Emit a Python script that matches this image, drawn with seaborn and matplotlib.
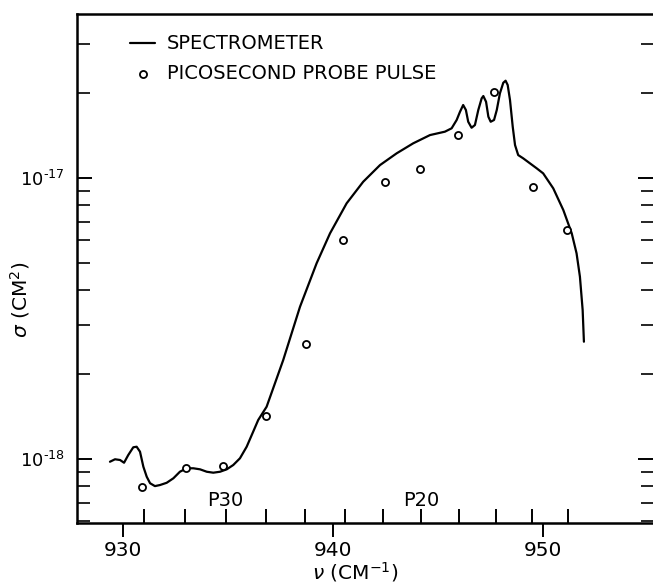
import matplotlib
matplotlib.use("Agg")
import matplotlib.pyplot as plt
from matplotlib.ticker import FixedLocator, FixedFormatter, LogLocator, NullFormatter
import pandas as pd
import seaborn as sns

# spectrometer trace, sigma in units of 1e-18 cm^2
spec_nu = [929.38, 929.62, 929.86, 930.05, 930.25, 930.49, 930.65, 930.81, 930.97,
           931.13, 931.29, 931.52, 931.76, 932.08, 932.40, 932.71, 933.03, 933.35,
           933.67, 933.99, 934.30, 934.62, 934.94, 935.25, 935.57, 935.89, 936.20,
           936.44, 936.84, 937.63, 938.43, 939.22, 939.86, 940.65, 941.44, 942.24,
           943.03, 943.82, 944.62, 945.33, 945.65, 945.89, 946.05, 946.20, 946.33,
           946.44, 946.60, 946.76, 946.92, 947.08, 947.16, 947.29, 947.40, 947.51,
           947.67, 947.80, 947.95, 948.11, 948.22, 948.32, 948.43, 948.56, 948.67,
           948.82, 949.06, 949.38, 949.70, 950.01, 950.49, 950.97, 951.37, 951.60,
           951.76, 951.89, 951.95]
spec_sigma = [0.978, 0.998, 0.992, 0.970, 1.033, 1.101, 1.106, 1.062, 0.939,
              0.865, 0.820, 0.801, 0.808, 0.823, 0.854, 0.901, 0.927, 0.927,
              0.919, 0.901, 0.894, 0.901, 0.919, 0.952, 1.006, 1.106, 1.251,
              1.377, 1.535, 2.250, 3.483, 4.971, 6.357, 8.128, 9.701, 11.12,
              12.24, 13.29, 14.22, 14.62, 15.03, 16.09, 17.22, 18.19, 17.46,
              15.86, 15.10, 15.44, 17.46, 19.21, 19.58, 18.68, 16.53, 15.86,
              16.09, 17.46, 20.02, 21.83, 22.20, 21.43, 18.95, 15.22, 13.10,
              12.07, 11.75, 11.28, 10.83, 10.39, 9.19, 7.69, 6.357, 5.395,
              4.455, 3.390, 2.615]

# picosecond probe pulse measurements, sigma in units of 1e-18 cm^2
probe_nu = [930.89, 933.00, 934.78, 936.80, 938.70, 940.49, 942.46, 944.14,
            945.97, 947.67, 949.51, 951.13]
probe_sigma = [0.797, 0.931, 0.944, 1.42, 2.57, 6.02, 9.65, 10.79, 14.22,
               20.28, 9.27, 6.53]

# CO2 laser P-branch lines marked on the frequency axis
pline_nu = [931.00, 932.96, 934.89, 936.80, 938.69, 940.55, 942.38, 944.19,
            945.98, 947.74, 949.48, 951.19]
pline_names = ["P30", "P20"]
pline_name_nu = [934.89, 944.19]

x_ticks = [930, 940, 950]
y_ticks = [1e-18, 1e-17]
y_ticklabels = ["$10^{\u201018}$", "$10^{\u201017}$"]

unit = 1e-18
spec = pd.DataFrame({"nu": spec_nu, "sigma": [v * unit for v in spec_sigma]})
probe = pd.DataFrame({"nu": probe_nu, "sigma": [v * unit for v in probe_sigma]})

sns.set_style("ticks")
plt.rcParams["font.family"] = ["DejaVu Sans"]
plt.rcParams["text.color"] = "black"
plt.rcParams["axes.labelcolor"] = "black"

fig = plt.figure(figsize=(6.53, 5.88), dpi=100)
ax = fig.add_axes([77 / 653, 65 / 588, 576 / 653, 509 / 588])

sns.lineplot(data=spec, x="nu", y="sigma", sort=False, color="black",
             linewidth=1.6, label="SPECTROMETER", ax=ax)
sns.scatterplot(data=probe, x="nu", y="sigma", marker="o", s=26,
                facecolor="white", edgecolor="black", linewidth=1.3,
                label="PICOSECOND PROBE PULSE", ax=ax, zorder=3)

ax.set_yscale("log")
ax.set_xlim(927.81, 955.24)
ax.set_ylim(5.92e-19, 3.835e-17)

ax.xaxis.set_major_locator(FixedLocator(x_ticks))
ax.xaxis.set_minor_locator(FixedLocator(pline_nu))
ax.yaxis.set_major_locator(FixedLocator(y_ticks))
ax.yaxis.set_major_formatter(FixedFormatter(y_ticklabels))
ax.yaxis.set_minor_locator(LogLocator(base=10, subs=range(2, 10)))
ax.yaxis.set_minor_formatter(NullFormatter())

ax.tick_params(axis="x", which="major", direction="out", length=10, width=1.4,
               labelsize=14.5, pad=3, color="black", labelcolor="black")
ax.tick_params(axis="x", which="minor", direction="in", length=10, width=1.4,
               top=False, color="black")
ax.tick_params(axis="y", which="major", direction="in", length=11, width=1.4,
               labelsize=13, pad=9, right=True, color="black",
               labelcolor="black")
ax.tick_params(axis="y", which="minor", direction="in", length=9, width=1.2,
               right=True, color="black")

for side in ["left", "bottom", "top"]:
    ax.spines[side].set_linewidth(1.8)
    ax.spines[side].set_color("black")
ax.spines["right"].set_visible(False)

for name, nu in zip(pline_names, pline_name_nu):
    ax.text(nu, 7.09e-19, name, ha="center", va="center", fontsize=14)

ax.set_xlabel(r"$\nu$ (CM$^{-1}$)", fontsize=14.5)
ax.set_ylabel(r"$\sigma$ (CM$^2$)", fontsize=14.5)
ax.xaxis.set_label_coords(0.484, -0.072)
ax.yaxis.set_label_coords(-0.078, 0.438)

ax.legend(loc="upper left", bbox_to_anchor=(53 / 576, 0.960), frameon=False,
          fontsize=14, handlelength=1.3, handletextpad=0.6,
          labelspacing=0.55, borderpad=0, borderaxespad=0)

fig.savefig("out.png", dpi=100)
